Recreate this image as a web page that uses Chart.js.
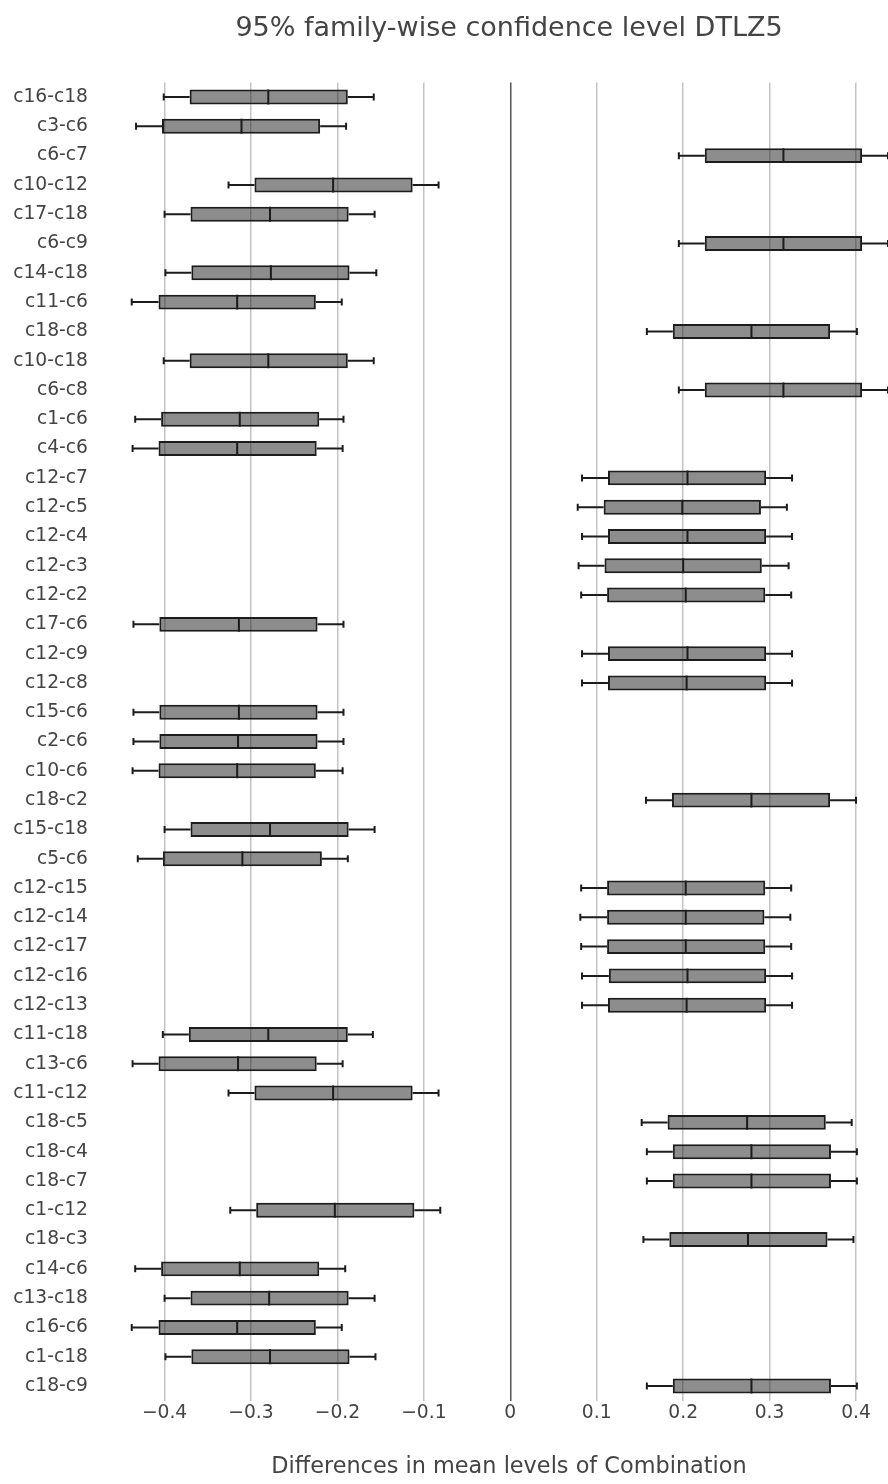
<!DOCTYPE html>
<html>
<head>
<meta charset="utf-8">
<title>DTLZ5</title>
<script src="https://cdn.jsdelivr.net/npm/chart.js@4/dist/chart.umd.min.js"></script>
<style>
  body { margin: 0; background: #fff; }
  #wrap { width: 888px; height: 1484px; position: relative; }
</style>
</head>
<body>
<div id="wrap"><canvas id="tukeyChart"></canvas></div>
<script>
"use strict";

// comparisons, top to bottom
const categories = [
    'c16-c18', 'c3-c6', 'c6-c7', 'c10-c12', 'c17-c18', 'c6-c9', 'c14-c18', 'c11-c6', 'c18-c8',
    'c10-c18', 'c6-c8', 'c1-c6', 'c4-c6', 'c12-c7', 'c12-c5', 'c12-c4', 'c12-c3', 'c12-c2',
    'c17-c6', 'c12-c9', 'c12-c8', 'c15-c6', 'c2-c6', 'c10-c6', 'c18-c2', 'c15-c18', 'c5-c6',
    'c12-c15', 'c12-c14', 'c12-c17', 'c12-c16', 'c12-c13', 'c11-c18', 'c13-c6', 'c11-c12',
    'c18-c5', 'c18-c4', 'c18-c7', 'c1-c12', 'c18-c3', 'c14-c6', 'c13-c18', 'c16-c6', 'c1-c18',
    'c18-c9'
];

const whiskerLow = [
    -0.401, -0.433, 0.195, -0.326, -0.400, 0.195, -0.399, -0.438, 0.158,
    -0.401, 0.195, -0.434, -0.437, 0.083, 0.078, 0.083, 0.079, 0.082,
    -0.436, 0.083, 0.083, -0.436, -0.436, -0.437, 0.157, -0.400, -0.431,
    0.082, 0.081, 0.082, 0.083, 0.083, -0.402, -0.437, -0.326,
    0.152, 0.158, 0.158, -0.324, 0.154, -0.434, -0.400, -0.438, -0.399,
    0.158
];

const boxLow = [
    -0.371, -0.403, 0.225, -0.296, -0.370, 0.225, -0.369, -0.407, 0.188,
    -0.371, 0.225, -0.404, -0.407, 0.113, 0.108, 0.113, 0.109, 0.112,
    -0.406, 0.113, 0.113, -0.406, -0.406, -0.407, 0.187, -0.370, -0.402,
    0.112, 0.112, 0.112, 0.114, 0.113, -0.372, -0.407, -0.296,
    0.182, 0.188, 0.188, -0.294, 0.184, -0.404, -0.370, -0.407, -0.369,
    0.188
];

const median = [
    -0.280, -0.311, 0.316, -0.205, -0.278, 0.316, -0.277, -0.316, 0.279,
    -0.280, 0.316, -0.313, -0.316, 0.205, 0.199, 0.205, 0.200, 0.203,
    -0.314, 0.205, 0.204, -0.314, -0.315, -0.316, 0.279, -0.278, -0.310,
    0.203, 0.203, 0.203, 0.205, 0.204, -0.280, -0.315, -0.205,
    0.274, 0.279, 0.279, -0.203, 0.275, -0.313, -0.279, -0.316, -0.278,
    0.279
];

const boxHigh = [
    -0.188, -0.220, 0.407, -0.113, -0.187, 0.407, -0.186, -0.225, 0.370,
    -0.188, 0.407, -0.221, -0.224, 0.296, 0.290, 0.296, 0.291, 0.295,
    -0.223, 0.296, 0.296, -0.223, -0.223, -0.225, 0.370, -0.187, -0.218,
    0.295, 0.294, 0.295, 0.296, 0.296, -0.188, -0.224, -0.113,
    0.365, 0.371, 0.371, -0.111, 0.367, -0.221, -0.187, -0.225, -0.186,
    0.371
];

const whiskerHigh = [
    -0.158, -0.190, 0.437, -0.083, -0.157, 0.437, -0.155, -0.195, 0.401,
    -0.158, 0.437, -0.193, -0.194, 0.326, 0.320, 0.326, 0.322, 0.325,
    -0.193, 0.326, 0.326, -0.193, -0.193, -0.194, 0.400, -0.157, -0.188,
    0.325, 0.324, 0.325, 0.326, 0.326, -0.159, -0.194, -0.083,
    0.395, 0.401, 0.401, -0.081, 0.397, -0.191, -0.157, -0.195, -0.156,
    0.401
];

const xTickValues = [-0.4, -0.3, -0.2, -0.1, 0, 0.1, 0.2, 0.3, 0.4];
const xTickLabels = ['\u22120.4', '\u22120.3', '\u22120.2', '\u22120.1', '0', '0.1', '0.2', '0.3', '0.4'];

const lineColor = '#1c1c1c';
const fillColor = 'rgba(28, 28, 28, 0.5)';
const textColor = '#444';
const fontFamily = "'DejaVu Sans', Verdana, sans-serif";

// whiskers, caps and medians on top of the floating bars
const whiskerPlugin = {
    id: 'whiskers',
    afterDatasetsDraw(chart) {
        const ctx = chart.ctx;
        const x = chart.scales.x;
        const bars = chart.getDatasetMeta(0).data;
        ctx.save();
        ctx.strokeStyle = lineColor;
        ctx.lineWidth = 2;
        bars.forEach((bar, i) => {
            const yc = bar.y;
            const half = bar.height / 2;
            const xMin = x.getPixelForValue(whiskerLow[i]);
            const xQ1 = x.getPixelForValue(boxLow[i]);
            const xMed = x.getPixelForValue(median[i]);
            const xQ3 = x.getPixelForValue(boxHigh[i]);
            const xMax = x.getPixelForValue(whiskerHigh[i]);

            ctx.beginPath();
            ctx.moveTo(xMin, yc);
            ctx.lineTo(xQ1, yc);
            ctx.moveTo(xQ3, yc);
            ctx.lineTo(xMax, yc);
            ctx.moveTo(xMin, yc - 3.5);
            ctx.lineTo(xMin, yc + 3.5);
            ctx.moveTo(xMax, yc - 3.5);
            ctx.lineTo(xMax, yc + 3.5);
            ctx.moveTo(xMed, yc - half);
            ctx.lineTo(xMed, yc + half);
            ctx.stroke();
        });
        ctx.restore();
    }
};

const ctx = document.getElementById('tukeyChart');

new Chart(ctx, {
    type: 'bar',
    data: {
        labels: categories,
        datasets: [{
            label: 'Combination',
            data: boxLow.map((lo, i) => [lo, boxHigh[i]]),
            backgroundColor: fillColor,
            borderColor: lineColor,
            borderWidth: 2,
            borderSkipped: false,
            categoryPercentage: 1,
            barPercentage: 0.51
        }]
    },
    options: {
        indexAxis: 'y',
        responsive: true,
        maintainAspectRatio: false,
        animation: false,
        layout: { padding: 0 },
        plugins: {
            legend: { display: false },
            tooltip: { enabled: false },
            title: {
                display: true,
                text: '95% family-wise confidence level DTLZ5',
                fullSize: false,
                color: textColor,
                font: { family: fontFamily, size: 27, weight: 'normal' },
                padding: { top: 13, bottom: 37 }
            }
        },
        scales: {
            x: {
                type: 'linear',
                min: -0.44,
                max: 0.437,
                afterBuildTicks: scale => {
                    scale.ticks = xTickValues.map(v => ({ value: v }));
                },
                border: { display: false },
                grid: {
                    drawTicks: false,
                    lineWidth: 1.5,
                    color: c => (c.tick && c.tick.value === 0) ? '#555' : '#c4c4c4'
                },
                ticks: {
                    color: textColor,
                    padding: 1,
                    font: { family: fontFamily, size: 18.7 },
                    callback: (value, index) => xTickLabels[index]
                },
                title: {
                    display: true,
                    text: 'Differences in mean levels of Combination',
                    color: textColor,
                    font: { family: fontFamily, size: 22.4 },
                    padding: { top: 29, bottom: 3 }
                }
            },
            y: {
                afterFit: scale => {
                    scale.width = 130;
                },
                border: { display: false },
                grid: { display: false, drawTicks: false },
                ticks: {
                    autoSkip: false,
                    color: textColor,
                    padding: 42,
                    font: { family: fontFamily, size: 18.7 }
                }
            }
        }
    },
    plugins: [whiskerPlugin]
});
</script>
</body>
</html>
